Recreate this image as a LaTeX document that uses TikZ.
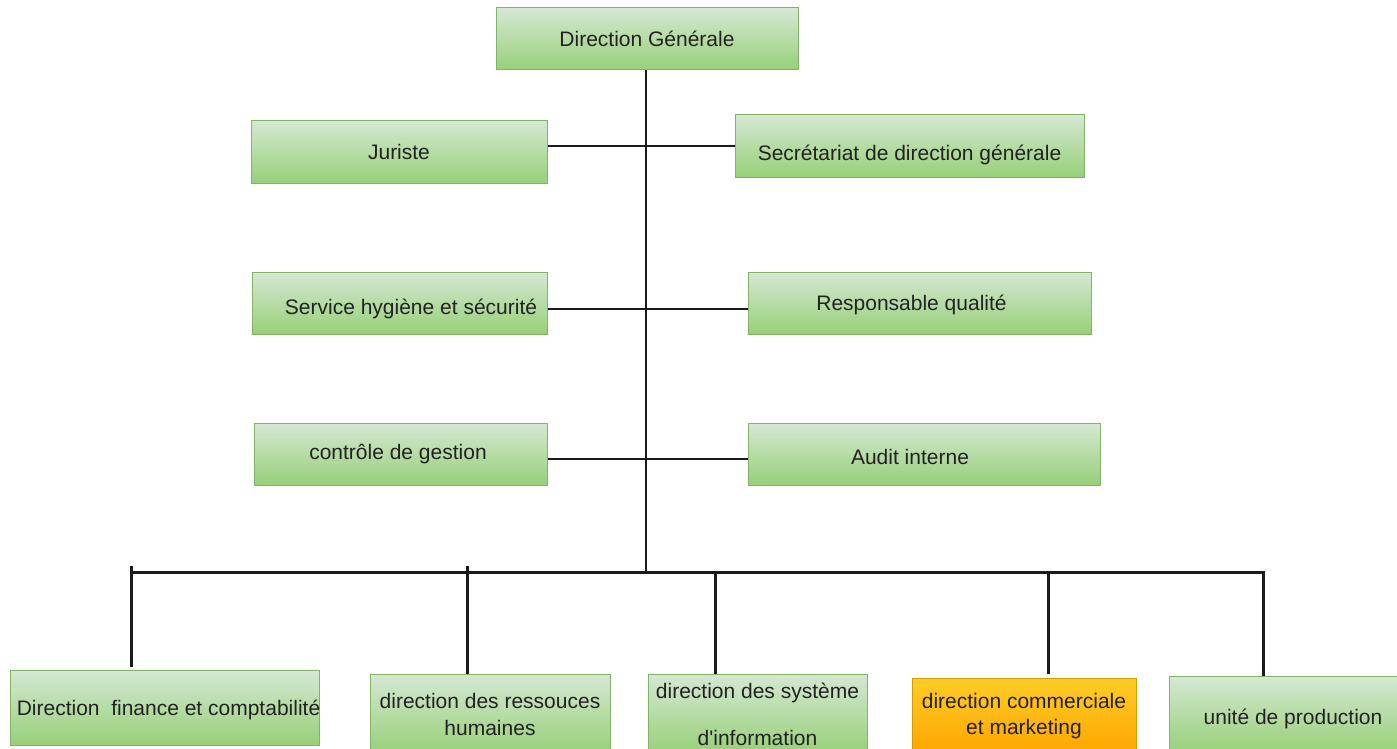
\documentclass[tikz,border=0pt]{standalone}
\usepackage{fontspec}
\setmainfont{Liberation Sans}[Ligatures=TeXOff]
\begin{document}
\begin{tikzpicture}[x=1pt,y=-1pt,
  box/.style={rectangle, draw=boxedge, line width=1pt, top color=greentop, bottom color=greenbot,
    inner sep=0pt, text=txt, font=\fontsize{21}{25}\selectfont, align=center},
  tbox/.style={box, text height=19pt, text depth=4pt},
  obox/.style={box, draw=oedge, top color=orangetop, bottom color=orangebot},
  thin/.style={line width=1.4pt, draw=linec},
  mid/.style={line width=2.4pt, draw=linec},
  thick/.style={line width=3pt, draw=linec, line join=miter}]
\definecolor{greentop}{HTML}{D5E8D4}
\definecolor{greenbot}{HTML}{97D077}
\definecolor{boxedge}{HTML}{82B366}
\definecolor{orangetop}{HTML}{FFCD28}
\definecolor{orangebot}{HTML}{FFA500}
\definecolor{oedge}{HTML}{D79B00}
\definecolor{linec}{HTML}{1A1A1A}
\definecolor{txt}{HTML}{222222}
\useasboundingbox (0,0) rectangle (1397,749);
\clip (0,0) rectangle (1397,749);

% top level
\node[tbox, minimum width=302, minimum height=62] (dg) at (647,39) {Direction Générale};

% staff functions
\node[tbox, minimum width=296, minimum height=62] (jur) at (399,152) {Juriste};
\node[tbox, minimum width=349, minimum height=62] (sec) at (909.5,146) {\raisebox{-7pt}{Secrétariat de direction générale}};
\node[tbox, minimum width=295, minimum height=62] (hyg) at (399.5,303) {\makebox[0pt]{\hspace*{23pt}\raisebox{-4pt}{Service hygiène et sécurité}}};
\node[tbox, minimum width=343, minimum height=62] (qual) at (919.5,303) {\makebox[0pt]{Responsable qualité\hspace*{16pt}}};
\node[tbox, minimum width=293, minimum height=62] (cg) at (400.5,454) {\makebox[0pt]{\raisebox{2pt}{contrôle de gestion}\hspace*{5pt}}};
\node[tbox, minimum width=352, minimum height=62] (aud) at (924,454) {\makebox[0pt]{\raisebox{-3pt}{Audit interne}\hspace*{28pt}}};

% operational directions
\node[tbox, minimum width=309, minimum height=75] (fin) at (164.5,707.5) {\makebox[0pt]{\hspace*{8pt}Direction\ \ finance et comptabilité}};
\node[box, minimum width=240, minimum height=80] (rh) at (490,714) {direction des ressouces\\[2pt]humaines};
\node[box, minimum width=219, minimum height=80] (si) at (757.5,714) {direction des système\\[22pt]d'information};
\node[obox, minimum width=224, minimum height=76] (com) at (1024,716) {direction commerciale\\[1pt]et marketing};
\node[tbox, minimum width=228, minimum height=78] (up) at (1283,715) {\makebox[0pt]{\hspace*{20pt}\raisebox{-2pt}{unité de production}}};

% trunk and side links
\coordinate (bus) at (646,572);
\draw[thin] (dg.south -| bus) -- (bus);
\draw[mid] (sec.west) -- (sec.west -| jur.east);
\draw[mid] ([yshift=-6pt]hyg.east) -- ([yshift=-6pt]qual.west);
\draw[mid] ([yshift=-5pt]cg.east) -- ([yshift=-5pt]aud.west);

% bus to the directions
\coordinate (t1) at (131,572);
\coordinate (t2) at (467,572);
\coordinate (t3) at (715,572);
\coordinate (t4) at (1048,572);
\coordinate (t5) at (1263,572);
\draw[thick] (t1) -- (t5) -- (t5 |- up.north);
\draw[thick] ([yshift=6pt]t1) -- ([yshift=3pt]t1 |- fin.north);
\draw[thick] ([yshift=6pt]t2) -- (t2 |- rh.north);
\draw[thick] (t3) -- (t3 |- si.north);
\draw[thick] (t4) -- ([yshift=4pt]t4 |- com.north);
\end{tikzpicture}
\end{document}
